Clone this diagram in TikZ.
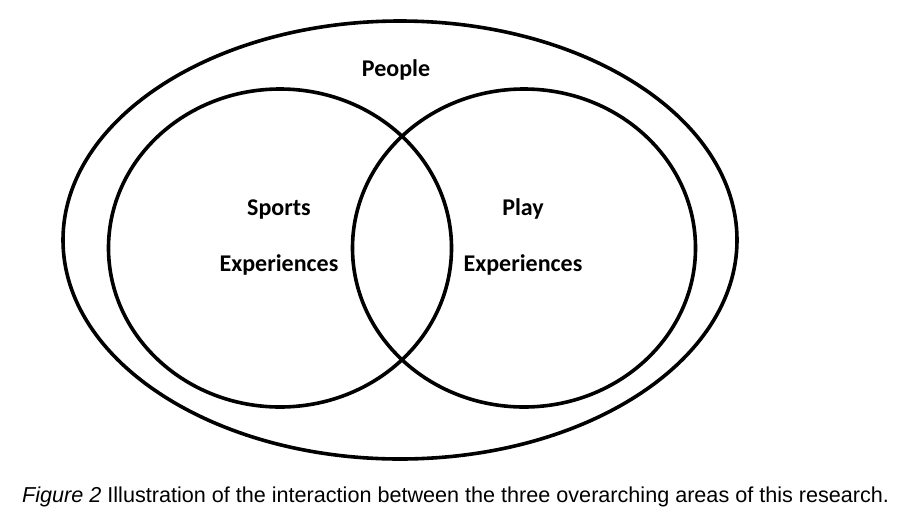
\documentclass[tikz,border=0pt]{standalone}
\usepackage{fontspec}
\setmainfont{Carlito}
\newfontfamily\capfont{Liberation Sans}
\usetikzlibrary{shapes.geometric}

\tikzset{
  ring/.style={draw, ellipse, line width=3.6pt, inner sep=0pt, outer sep=0pt},
  area/.style={font=\fontsize{24}{26}\selectfont\bfseries, anchor=base, inner sep=0pt}
}

\begin{document}
\begin{tikzpicture}[x=1pt,y=-1pt]
\useasboundingbox[fill=white] (0,0) rectangle (902,520);

% Outer set and the two overlapping sets
\node[ring, minimum width=674pt, minimum height=438pt] (people) at (400,240) {};
\node[ring, minimum width=343pt, minimum height=318pt] (sports) at (280,248) {};
\node[ring, minimum width=343pt, minimum height=318pt] (play) at (524,248) {};

% Labels
\node[area] (peoplelbl) at (396,76) {People};
\node[area] (sportslbl) at (279,215) {Sports};
\node[area] (sportsexp) at (279,271) {Experiences};
\node[area] (playlbl) at (523,215) {Play};
\node[area] (playexp) at (523,271) {Experiences};

% Caption
\node[font=\capfont\fontsize{21.6}{24}\selectfont, anchor=base west, inner sep=0pt] (caption) at (22,502)
  {\textit{Figure 2} Illustration of the interaction between the three overarching areas of this research.};
\end{tikzpicture}
\end{document}
